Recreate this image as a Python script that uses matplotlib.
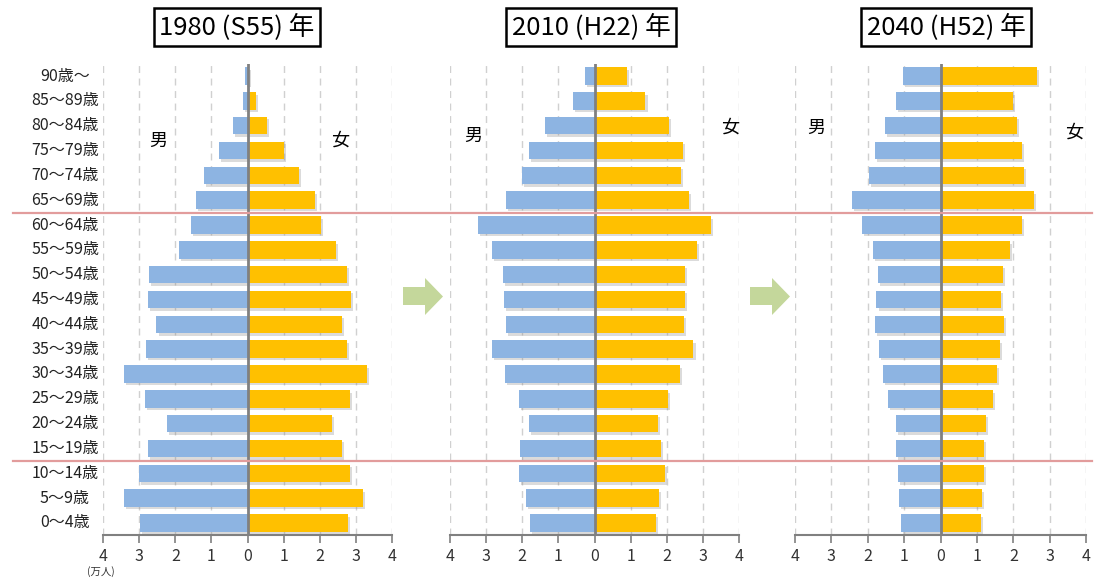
import matplotlib.pyplot as plt
import matplotlib.patheffects as pe
from matplotlib.patches import Polygon
from matplotlib.lines import Line2D
from matplotlib.transforms import blended_transform_factory
from matplotlib.ticker import FuncFormatter

plt.rcParams["font.family"] = ["Noto Sans CJK JP", "DejaVu Sans"]

# ---------------------------------------------------------
#  Data (万人), youngest first
# ---------------------------------------------------------
age_labels = ["0～4歳", "5～9歳", "10～14歳", "15～19歳", "20～24歳", "25～29歳",
              "30～34歳", "35～39歳", "40～44歳", "45～49歳", "50～54歳", "55～59歳",
              "60～64歳", "65～69歳", "70～74歳", "75～79歳", "80～84歳", "85～89歳",
              "90歳～"]

titles = ["1980 (S55) 年", "2010 (H22) 年", "2040 (H52) 年"]

male_1980 = [2.97, 3.41, 3.00, 2.76, 2.22, 2.84, 3.41, 2.80, 2.52, 2.76,
             2.73, 1.91, 1.57, 1.43, 1.20, 0.78, 0.41, 0.13, 0.07]
female_1980 = [2.79, 3.20, 2.84, 2.62, 2.35, 2.84, 3.31, 2.76, 2.62, 2.86,
               2.76, 2.45, 2.04, 1.86, 1.43, 1.02, 0.53, 0.23, 0.04]

male_2010 = [1.79, 1.89, 2.10, 2.06, 1.82, 2.10, 2.47, 2.85, 2.44, 2.50,
             2.54, 2.85, 3.22, 2.44, 2.00, 1.82, 1.38, 0.60, 0.26]
female_2010 = [1.69, 1.79, 1.96, 1.85, 1.76, 2.03, 2.37, 2.74, 2.48, 2.50,
               2.50, 2.84, 3.22, 2.61, 2.39, 2.44, 2.05, 1.41, 0.90]

male_2040 = [1.08, 1.14, 1.18, 1.22, 1.22, 1.45, 1.59, 1.69, 1.80, 1.76,
             1.72, 1.86, 2.16, 2.44, 1.96, 1.80, 1.52, 1.22, 1.04]
female_2040 = [1.10, 1.13, 1.20, 1.20, 1.24, 1.44, 1.55, 1.63, 1.75, 1.65,
               1.71, 1.92, 2.23, 2.57, 2.29, 2.23, 2.09, 1.99, 2.64]

males = [male_1980, male_2010, male_2040]
females = [female_1980, female_2010, female_2040]

BLUE = "#8DB4E2"
ORANGE = "#FFC000"
GRID = "#D0D0D0"
AXIS = "#808080"
RED = "#E29C9C"
GREEN = "#C4D79B"

W, H = 1099, 580
fig = plt.figure(figsize=(W / 100, H / 100), dpi=100)
fig.patch.set_facecolor("white")


def fx(px):
    return px / W


def fy(py):
    return 1 - py / H


# axes boxes in pixels: (left, right)
panel_px = [(103, 392), (450, 739), (795, 1086)]
top_px, bot_px = 63.6, 535.4

# label positions (男, 女) in pixels
sex_px = [((158, 141), (340, 141)),
          ((473, 136), (730, 128)),
          ((816, 128), (1074, 133))]
title_px = [237, 591, 946]

shadow = [pe.SimplePatchShadow(offset=(1.5, -1.8), shadow_rgbFace="#8a8a8a", alpha=0.3),
          pe.Normal()]

axes = []
for i in range(3):
    l, r = panel_px[i]
    ax = fig.add_axes([fx(l), fy(bot_px), fx(r - l), (bot_px - top_px) / H])
    axes.append(ax)
    y = range(len(age_labels))
    mb = ax.barh(y, [-v for v in males[i]], height=0.7, color=BLUE, zorder=3)
    fb = ax.barh(y, females[i], height=0.7, color=ORANGE, zorder=3)
    for b in list(mb) + list(fb):
        b.set_path_effects(shadow)

    ax.set_xlim(-4, 4)
    ax.set_ylim(-0.5, len(age_labels) - 0.5)
    ax.set_xticks(range(-4, 5))
    ax.xaxis.set_major_formatter(FuncFormatter(lambda v, p: f"{abs(int(v))}"))
    ax.set_yticks([])
    for s in ["top", "left", "right"]:
        ax.spines[s].set_visible(False)
    ax.spines["bottom"].set_color(AXIS)
    ax.spines["bottom"].set_linewidth(1.5)
    ax.tick_params(axis="x", colors=AXIS, length=6, width=1.2, labelsize=11.5,
                   labelcolor="#333333", pad=3)
    for xv in range(-4, 5):
        if xv != 0:
            ax.axvline(xv, color=GRID, lw=1, ls=(0, (5, 4)), zorder=1)
    ax.axvline(0, color=AXIS, lw=2, zorder=4)

    (mx, my), (wx, wy) = sex_px[i]
    fig.text(fx(mx), fy(my), "男", ha="center", va="center", fontsize=13)
    fig.text(fx(wx), fy(wy), "女", ha="center", va="center", fontsize=13)

    fig.text(fx(title_px[i]), fy(27), titles[i], ha="center", va="center",
             fontsize=18.5, family=["Liberation Sans Narrow", "Noto Sans CJK JP"],
             bbox=dict(boxstyle="square,pad=0.2", facecolor="white",
                       edgecolor="black", linewidth=1.8))

# age labels for the first panel
lab_tr = blended_transform_factory(fig.transFigure, axes[0].transData)
for k, lab in enumerate(age_labels):
    axes[0].text(fx(65), k, lab, transform=lab_tr, ha="center", va="center",
                 fontsize=11.5, color="#222222")

fig.text(fx(101), fy(577), "(万人)", ha="center", va="bottom", fontsize=7.5,
         color="#333333")

# red separators across all panels (between 10-14/15-19 and 60-64/65-69)
red_tr = blended_transform_factory(fig.transFigure, axes[0].transData)
for yv in [2.5, 12.5]:
    fig.lines.append(Line2D([fx(13), fx(1092)], [yv, yv], transform=red_tr,
                            color=RED, lw=1.6, zorder=5))

# green arrows between panels
for x0 in [403, 750]:
    pts = [(x0, 287), (x0 + 22, 287), (x0 + 22, 278), (x0 + 40, 296.5),
           (x0 + 22, 315), (x0 + 22, 305), (x0, 305)]
    fig.patches.append(Polygon([(fx(a), fy(b)) for a, b in pts], closed=True,
                               transform=fig.transFigure, facecolor=GREEN,
                               edgecolor="none", zorder=6))

fig.savefig("out.png", dpi=100, facecolor="white")
